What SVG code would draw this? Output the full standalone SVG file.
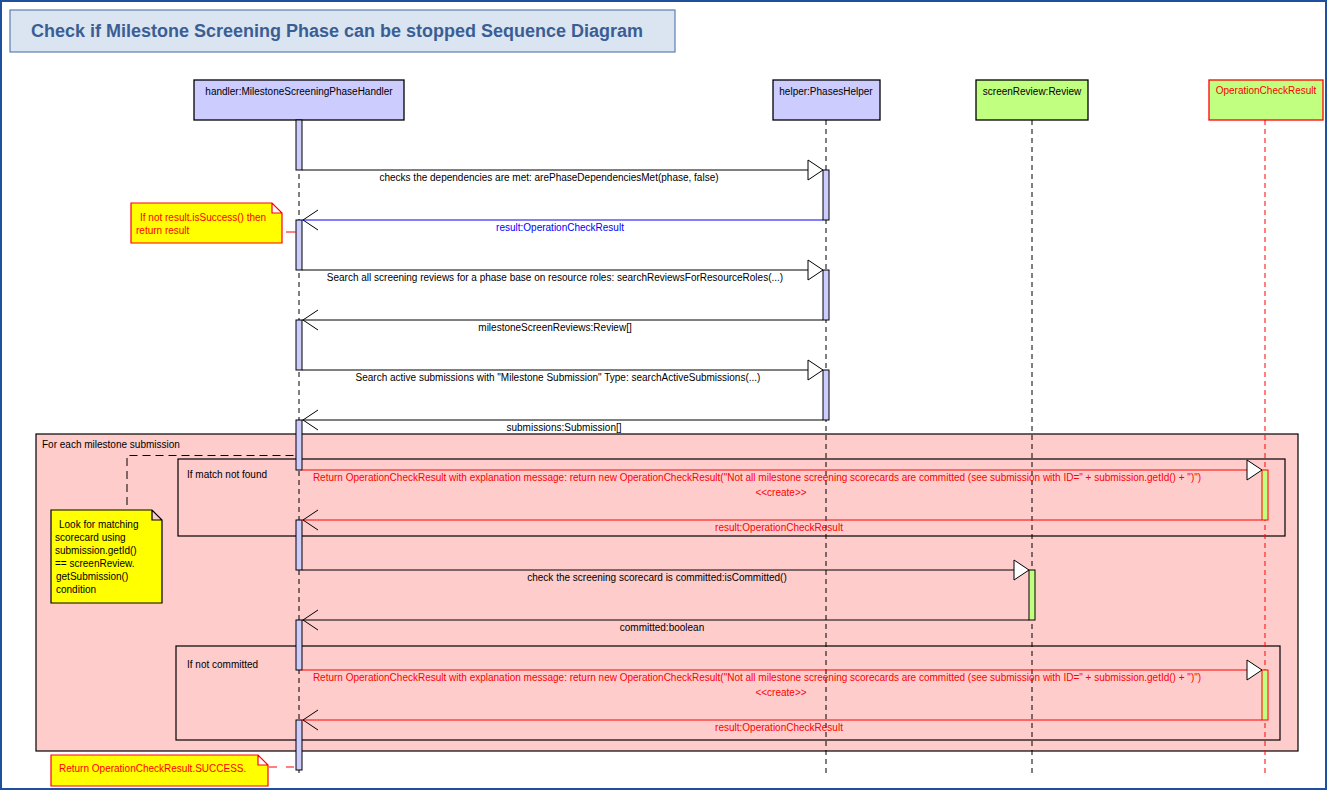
<svg xmlns="http://www.w3.org/2000/svg" width="1328" height="791" viewBox="0 0 1328 791">
<style>
text{font-family:"Liberation Sans",Arial,sans-serif;font-size:10px;fill:#000}
.red{fill:#ff0000}
.blue{fill:#0000ff}
.mid{text-anchor:middle}
.head{stroke:#000;stroke-width:1.3}
.act{fill:#ccccff;stroke:#000;stroke-width:1}
.actg{fill:#c0ff80;stroke:#000;stroke-width:1}
.actr{fill:#c0ff80;stroke:#ff0000;stroke-width:1}
.life{stroke:#000;stroke-width:1;stroke-dasharray:5,4;fill:none}
.liferd{stroke:#ff0000;stroke-width:1;stroke-dasharray:5,4;fill:none}
.msg{stroke:#000;stroke-width:1;fill:none}
.msgb{stroke:#0000ff;stroke-width:1;fill:none}
.msgr{stroke:#ff0000;stroke-width:1;fill:none}
.tri{fill:#fff;stroke:#000;stroke-width:1}
.open{stroke:#000;stroke-width:1;fill:none}
.frame{fill:none;stroke:#000;stroke-width:1.2}
.note{fill:#ffff00;stroke-width:1.2}
</style>
<defs>
<path id="callhead" d="M0,0 L-15,-10 L-15,10 Z" class="tri"/>
<path id="rethead" d="M0,0 L15,-10 M0,0 L15,10" class="open"/>
</defs>
<rect x="0" y="0" width="1328" height="791" fill="#fff"/>
<rect x="1" y="1" width="1325" height="788" fill="none" stroke="#1f4f9f" stroke-width="2"/>

<g id="title">
<rect x="10" y="10" width="665" height="42" fill="#dbe5f1" stroke="#5b7fb2" stroke-width="1.2"/>
<text x="31" y="37" textLength="612" lengthAdjust="spacingAndGlyphs" style="font-size:17.5px;font-weight:bold;fill:#3a5e94">Check if Milestone Screening Phase can be stopped Sequence Diagram</text>
</g>

<g id="loop-frame">
<rect x="36" y="434" width="1262" height="317" fill="#ffcccc" stroke="#000" stroke-width="1.2"/>
<text x="42" y="448">For each milestone submission</text>
</g>
<g id="alt-match-not-found">
<rect x="178" y="459" width="1107" height="77" class="frame"/>
<text x="187" y="478">If match not found</text>
</g>
<g id="alt-not-committed">
<rect x="176" y="646" width="1104" height="94" class="frame"/>
<text x="187" y="668">If not committed</text>
</g>

<g id="handler">
<rect x="194" y="80" width="210" height="40" fill="#ccccff" class="head"/>
<text x="299" y="95" class="mid">handler:MilestoneScreeningPhaseHandler</text>
<line x1="299" y1="120" x2="299" y2="776" class="life"/>
<rect x="296" y="120" width="6" height="50" class="act"/>
<rect x="296" y="220" width="6" height="50" class="act"/>
<rect x="296" y="320" width="6" height="50" class="act"/>
<rect x="296" y="420" width="6" height="50" class="act"/>
<rect x="296" y="520" width="6" height="50" class="act"/>
<rect x="296" y="620" width="6" height="50" class="act"/>
<rect x="296" y="720" width="6" height="50" class="act"/>
</g>

<g id="helper">
<rect x="773" y="80" width="107" height="40" fill="#ccccff" class="head"/>
<text x="826" y="95" class="mid">helper:PhasesHelper</text>
<line x1="826" y1="120" x2="826" y2="776" class="life"/>
<rect x="823" y="170" width="6" height="50" class="act"/>
<rect x="823" y="270" width="6" height="50" class="act"/>
<rect x="823" y="370" width="6" height="50" class="act"/>
</g>

<g id="screenReview">
<rect x="976" y="80" width="112" height="40" fill="#c0ff80" class="head"/>
<text x="1032" y="95" class="mid">screenReview:Review</text>
<line x1="1032" y1="120" x2="1032" y2="776" class="life"/>
<rect x="1029" y="570" width="6" height="50" class="actg"/>
</g>

<g id="operationCheckResult">
<rect x="1209" y="80" width="114" height="40" fill="#c0ff80" stroke="#ff0000" stroke-width="1.3"/>
<text x="1266" y="94" class="mid red">OperationCheckResult</text>
<line x1="1265" y1="120" x2="1265" y2="776" class="liferd"/>
<rect x="1262" y="470" width="6" height="50" class="actr"/>
<rect x="1262" y="670" width="6" height="50" class="actr"/>
</g>

<g id="connectors">
<line x1="302" y1="170" x2="823" y2="170" class="msg"/>
<use href="#callhead" x="823" y="170"/>
<text x="549" y="181" class="mid">checks the dependencies are met: arePhaseDependenciesMet(phase, false)</text>

<line x1="302" y1="220" x2="823" y2="220" class="msgb"/>
<use href="#rethead" x="303" y="220"/>
<text x="560" y="231" class="mid blue">result:OperationCheckResult</text>

<line x1="302" y1="270" x2="823" y2="270" class="msg"/>
<use href="#callhead" x="823" y="270"/>
<text x="555" y="281" class="mid">Search all screening reviews for a phase base on resource roles: searchReviewsForResourceRoles(...)</text>

<line x1="302" y1="320" x2="823" y2="320" class="msg"/>
<use href="#rethead" x="303" y="320"/>
<text x="555" y="331" class="mid">milestoneScreenReviews:Review[]</text>

<line x1="302" y1="370" x2="823" y2="370" class="msg"/>
<use href="#callhead" x="823" y="370"/>
<text x="558" y="381" class="mid">Search active submissions with "Milestone Submission" Type: searchActiveSubmissions(...)</text>

<line x1="302" y1="420" x2="823" y2="420" class="msg"/>
<use href="#rethead" x="303" y="420"/>
<text x="564" y="431" class="mid">submissions:Submission[]</text>

<line x1="302" y1="470" x2="1262" y2="470" class="msgr"/>
<use href="#callhead" x="1262" y="470"/>
<text x="757" y="481" class="mid red">Return OperationCheckResult with explanation message: return new OperationCheckResult("Not all milestone screening scorecards are committed (see submission with ID=" + submission.getId() + ")")</text>
<text x="781" y="496" class="mid red">&lt;&lt;create&gt;&gt;</text>

<line x1="302" y1="520" x2="1262" y2="520" class="msgr"/>
<use href="#rethead" x="303" y="520"/>
<text x="779" y="531" class="mid red">result:OperationCheckResult</text>

<line x1="302" y1="570" x2="1029" y2="570" class="msg"/>
<use href="#callhead" x="1029" y="570"/>
<text x="657" y="581" class="mid">check the screening scorecard is committed:isCommitted()</text>

<line x1="302" y1="620" x2="1029" y2="620" class="msg"/>
<use href="#rethead" x="303" y="620"/>
<text x="662" y="631" class="mid">committed:boolean</text>

<line x1="302" y1="670" x2="1262" y2="670" class="msgr"/>
<use href="#callhead" x="1262" y="670"/>
<text x="757" y="681" class="mid red">Return OperationCheckResult with explanation message: return new OperationCheckResult("Not all milestone screening scorecards are committed (see submission with ID=" + submission.getId() + ")")</text>
<text x="781" y="696" class="mid red">&lt;&lt;create&gt;&gt;</text>

<line x1="302" y1="720" x2="1262" y2="720" class="msgr"/>
<use href="#rethead" x="303" y="720"/>
<text x="779" y="731" class="mid red">result:OperationCheckResult</text>

<line x1="286" y1="232" x2="296" y2="232" stroke="#ff0000" stroke-width="1"/>
<path d="M127,505 V455.5 H296" fill="none" stroke="#000" stroke-width="1" stroke-dasharray="8,5"/>
<line x1="269" y1="767" x2="296" y2="767" stroke="#ff0000" stroke-width="1" stroke-dasharray="8,9"/>
</g>

<g id="note-not-success">
<path d="M131,203 H272 L282,213 V243 H131 Z M272,203 V213 H282" class="note" stroke="#ff0000"/>
<text x="140" y="221" class="red"> If not result.isSuccess() then</text>
<text x="136" y="234" class="red">return result</text>
</g>

<g id="note-look-for-matching">
<path d="M51,510 H152 L162,520 V603 H51 Z M152,510 V520 H162" class="note" stroke="#000"/>
<text x="59" y="528">Look for matching</text>
<text x="55" y="541">scorecard using</text>
<text x="55" y="554">submission.getId()</text>
<text x="55" y="567">== screenReview.</text>
<text x="56" y="580">getSubmission()</text>
<text x="56" y="593">condition</text>
</g>

<g id="note-success">
<path d="M51,755 H258 L268,765 V786 H51 Z M258,755 V765 H268" class="note" stroke="#ff0000"/>
<text x="59" y="772" class="red">Return OperationCheckResult.SUCCESS.</text>
</g>
</svg>
